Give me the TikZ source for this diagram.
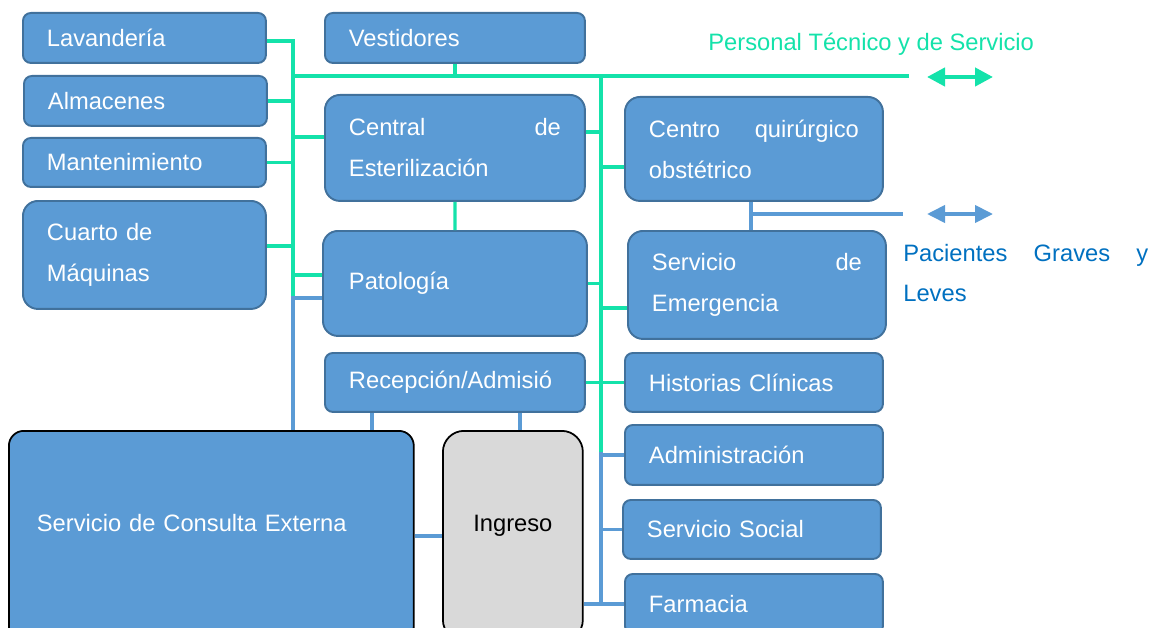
\documentclass[tikz,border=0pt]{standalone}
\usepackage{fontspec}
\setmainfont{Liberation Sans}
\usepackage{xcolor}
\usetikzlibrary{arrows.meta}

\definecolor{roomfill}{HTML}{5B9BD5}
\definecolor{roomedge}{HTML}{41719C}
\definecolor{staffgreen}{HTML}{14E2AA}
\definecolor{patblue}{HTML}{5B9BD5}
\definecolor{lblblue}{HTML}{0070C0}
\definecolor{entrygray}{HTML}{D9D9D9}

\newcommand{\roomfont}{\fontsize{13.5}{23.3}\selectfont}

\begin{document}
\begin{tikzpicture}[
  x=0.02cm, y=-0.02cm,
  room/.style={
    draw=roomedge, fill=roomfill, line width=1.1pt, rounded corners=4.5pt,
    text=white, font=\roomfont, align=left, anchor=north west,
    inner xsep=0.48cm, inner ysep=0pt
  },
  lroom/.style={room, text width=3.9cm},
  mroom/.style={room, text width=4.24cm},
  rroom/.style={room, text width=4.2cm},
  tall/.style={rounded corners=8.5pt},
  outer/.style={room, draw=black, line width=1pt, text depth=0.5cm},
  gline/.style={draw=staffgreen, line width=1.8pt},
  bline/.style={draw=patblue, line width=2pt},
  garrow/.style={
    {Triangle[length=0.36cm,width=0.36cm]}-{Triangle[length=0.36cm,width=0.36cm]},
    draw=staffgreen, line width=2.4pt
  },
  barrow/.style={
    {Triangle[length=0.36cm,width=0.34cm]}-{Triangle[length=0.36cm,width=0.34cm]},
    draw=patblue, line width=2.2pt
  },
]
\useasboundingbox (0,0) rectangle (1155,628);

% left column
\node[lroom, minimum height=1cm]          (lav)  at (22,12)  {Lavandería};
\node[lroom, minimum height=1cm]          (alm)  at (23,75)  {Almacenes};
\node[lroom, minimum height=0.98cm]       (mant) at (22,137) {Mantenimiento};
\node[lroom, tall, minimum height=2.16cm] (maq)  at (22,200) {Cuarto de\\Máquinas};

% middle column
\node[mroom, minimum height=1cm]          (vest)  at (324,12)  {Vestidores};
\node[mroom, tall, minimum height=2.12cm] (este)  at (324,94)  {Central\hfill de\\Esterilización};
\node[mroom, tall, minimum width=5.28cm, minimum height=2.1cm] (pat) at (322,230) {Patología};
\node[mroom, minimum height=1.18cm]       (recep) at (324,352) {Recepción/Admisió};

% right column
\node[rroom, tall, minimum height=2.08cm] (quir)   at (624,96)  {Centro\hfill quirúrgico\\obstétrico};
\node[rroom, tall, minimum height=2.16cm] (emer)   at (627,230) {Servicio\hfill de\\Emergencia};
\node[rroom, minimum height=1.18cm]       (hist)   at (624,352) {Historias Clínicas};
\node[rroom, minimum height=1.2cm]        (admin)  at (624,424) {Administración};
\node[rroom, minimum height=1.18cm]       (social) at (622,499) {Servicio Social};
\node[rroom, minimum height=1.2cm]        (farm)   at (624,573) {Farmacia};

% bottom
\node[outer, text width=6.98cm, minimum width=8.1cm, minimum height=4.2cm,
      rounded corners=8.5pt] (consulta) at (8,430) {Servicio de Consulta Externa};
\node[outer, fill=entrygray, text=black, align=center, minimum width=2.8cm,
      minimum height=4.2cm, rounded corners=12pt] (ingreso) at (442,430) {Ingreso};

% labels
\node[font=\roomfont, text=staffgreen, anchor=west, inner sep=0pt] (staff) at (708,44)
  {Personal Técnico y de Servicio};
\node[font=\roomfont, text=lblblue, anchor=west, inner sep=0pt, text width=4.9cm,
      align=left] (pacientes) at (903,273) {Pacientes\hfill Graves\hfill y\\Leves};

\coordinate (trunkL) at (293,297);
\coordinate (busL)   at (293,76);
\coordinate (busR)   at (909,76);
\coordinate (trunkR) at (601,76);
\coordinate (splitR) at (601,452);
\coordinate (endR)   at (601,603);
\coordinate (patbus) at (903,214);

% staff connections
\draw[gline] ([yshift=-0.06cm]lav.east) -| (trunkL);
\draw[gline] (alm.east) -- (alm.east -| trunkL);
\draw[gline] (mant.east) -- (mant.east -| trunkL);
\draw[gline] ([yshift=0.18cm]maq.east) -- ([yshift=0.18cm]maq.east -| trunkL);
\draw[gline] ([yshift=0.22cm]este.west) -- ([yshift=0.22cm]este.west -| trunkL);
\draw[gline] ([yshift=0.17cm]pat.west) -- ([yshift=0.17cm]pat.west -| trunkL);
\draw[gline] (busL) -- (busR);
\draw[gline] (vest) -- (vest |- busL);
\draw[gline] (este) -- (pat);
\draw[gline] (trunkR) -- (splitR);
\draw[gline] ([yshift=0.32cm]este.east) -- ([yshift=0.32cm]este.east -| trunkR);
\draw[gline] ([yshift=-0.36cm]quir.west) -- ([yshift=-0.36cm]quir.west -| trunkR);
\draw[gline] (pat.east) -- (pat.east -| trunkR);
\draw[gline] ([yshift=-0.46cm]emer.west) -- ([yshift=-0.46cm]emer.west -| trunkR);
\draw[gline] (recep) -- (hist);

% patient connections
\draw[bline] ([yshift=-0.29cm]pat.west) -| (consulta.north -| trunkL);
\draw[bline] (splitR) -- (endR);
\draw[bline] (admin.west) -- (admin.west -| trunkR);
\draw[bline] (social.west) -- (social.west -| trunkR);
\draw[bline] (ingreso.east |- farm.west) -- (farm.west);
\draw[bline] ([xshift=0.96cm]recep.south west) -- ([xshift=0.96cm]recep.south west |- consulta.north);
\draw[bline] ([xshift=0.14cm]ingreso.north) -- ([xshift=0.14cm]ingreso.north |- recep.south);
\draw[bline] (consulta) -- (ingreso);
\draw[bline] ([xshift=-0.06cm]quir.south) -- ([xshift=-0.06cm]quir.south |- emer.north);
\draw[bline] ([xshift=-0.06cm]quir.south |- patbus) -- (patbus);

% flow arrows
\coordinate (ga) at (927,77);
\coordinate (gb) at (993,77);
\coordinate (ba) at (927,214);
\coordinate (bb) at (993,214);
\draw[garrow] (ga) -- (gb);
\draw[barrow] (ba) -- (bb);

\end{tikzpicture}
\end{document}
